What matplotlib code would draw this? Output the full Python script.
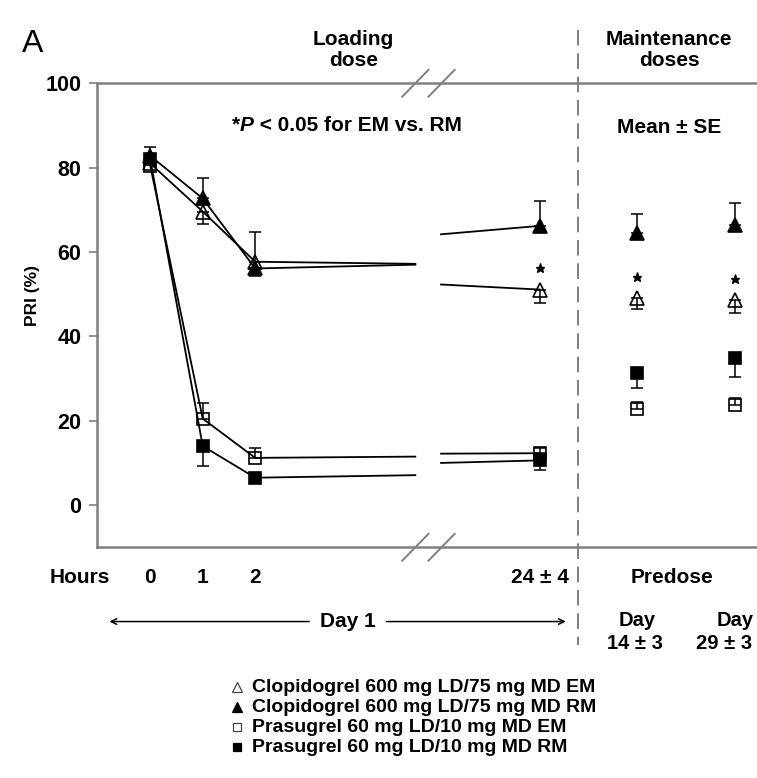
import matplotlib
matplotlib.use("Agg")
import matplotlib.pyplot as plt
from matplotlib.lines import Line2D
from matplotlib.transforms import blended_transform_factory

plt.rcParams['font.family'] = ['Liberation Sans', 'DejaVu Sans']

# ---------------- data ----------------
# loading-dose time points: 0, 1, 2 h and 24±4 h ; maintenance: day 14, day 29
series_names = ["Clopidogrel 600 mg LD/75 mg MD EM",
                "Clopidogrel 600 mg LD/75 mg MD RM",
                "Prasugrel 60 mg LD/10 mg MD EM",
                "Prasugrel 60 mg LD/10 mg MD RM"]

clop_em_ld = [81.0, 69.6, 57.7, 51.1]
clop_rm_ld = [82.8, 72.7, 56.1, 66.2]
pras_em_ld = [80.5, 20.5, 11.2, 12.3]
pras_rm_ld = [82.0, 14.0, 6.5, 10.6]

# values where the line is interrupted by the axis break (left end, right start)
clop_em_brk = [57.2, 52.3]
clop_rm_brk = [57.0, 64.2]
pras_em_brk = [11.5, 12.2]
pras_rm_brk = [7.1, 10.0]

clop_em_md = [49.0, 48.6]
clop_rm_md = [64.4, 66.4]
pras_em_md = [22.9, 23.7]
pras_rm_md = [31.4, 34.8]

# standard errors (one-sided bars: +1 up, -1 down, 0 none)
clop_em_se = [0.0, 3.0, 7.0, 3.3, 2.6, 3.1]
clop_rm_se = [2.2, 4.8, 1.8, 6.0, 4.6, 5.2]
pras_em_se = [0.0, 3.6, 2.4, 1.2, 1.5, 1.7]
pras_rm_se = [0.0, 4.75, 0.0, 2.3, 3.6, 4.4]
clop_em_dir = [0, -1, 1, -1, -1, -1]
clop_rm_dir = [1, 1, -1, 1, 1, 1]
pras_em_dir = [0, 1, 1, 1, 1, 1]
pras_rm_dir = [0, -1, 0, -1, -1, -1]

time_labels = ["0", "1", "2", "24 \u00b1 4"]
day_labels = ["14 \u00b1 3", "29 \u00b1 3"]
yticks = [0, 20, 40, 60, 80, 100]

# ---------------- layout ----------------
x_ld = [0, 1, 2, 7.42]
x_md = [9.27, 11.14]
x_brk = [5.05, 5.54]
x_dash = 8.15

W, H = 757, 778
fig = plt.figure(figsize=(W / 100, H / 100), dpi=100)
ax = fig.add_axes([96.7 / W, 1 - 547.3 / H, (W - 96.7) / W, (547.3 - 83.3) / H])
ax.set_xlim(-1.02, 11.56)
ax.set_ylim(-10, 100)

gray = "#7f7f7f"
for s in ["left", "top", "bottom"]:
    ax.spines[s].set_color(gray)
    ax.spines[s].set_linewidth(1.8)
ax.spines["right"].set_visible(False)
ax.set_xticks([])
ax.set_yticks(yticks)
ax.set_yticklabels([str(v) for v in yticks], fontsize=15.5, fontweight="bold")
ax.tick_params(axis="y", length=6, width=1.2, color=gray, pad=5)
fig.text(33 / W, 1 - 296 / H, "PRI (%)", rotation=90, ha="center", va="center",
         fontsize=12.5, fontweight="bold")

styles = [
    dict(marker="^", mfc="none", mec="black", ms=9.5),
    dict(marker="^", mfc="black", mec="black", ms=9.5),
    dict(marker="s", mfc="none", mec="black", ms=8),
    dict(marker="s", mfc="black", mec="black", ms=8),
]
lds = [clop_em_ld, clop_rm_ld, pras_em_ld, pras_rm_ld]
brks = [clop_em_brk, clop_rm_brk, pras_em_brk, pras_rm_brk]
mds = [clop_em_md, clop_rm_md, pras_em_md, pras_rm_md]
ses = [clop_em_se, clop_rm_se, pras_em_se, pras_rm_se]
dirs = [clop_em_dir, clop_rm_dir, pras_em_dir, pras_rm_dir]

for ld, brk, md, se, dr, st in zip(lds, brks, mds, ses, dirs, styles):
    # lines (interrupted at break)
    ax.plot(x_ld[:3] + [x_brk[0]], ld[:3] + [brk[0]], color="black", lw=1.3, zorder=2)
    ax.plot([x_brk[1], x_ld[3]], [brk[1], ld[3]], color="black", lw=1.3, zorder=2)
    xs = x_ld + x_md
    ys = ld + md
    # one-sided error bars
    for xv, yv, e, d in zip(xs, ys, se, dr):
        if d == 0 or e == 0:
            continue
        lo = [e] if d < 0 else [0]
        hi = [e] if d > 0 else [0]
        ax.errorbar([xv], [yv], yerr=[lo, hi], fmt="none", ecolor="black",
                    elinewidth=1.1, capsize=4.5, capthick=1.1, zorder=3)
    ax.plot(xs, ys, linestyle="none", zorder=4, markeredgewidth=1.2, **st)

# significance stars above Clopidogrel EM at 24h, day14, day29
star_x = [x_ld[3]] + x_md
star_y = [clop_em_ld[3], clop_em_md[0], clop_em_md[1]]
ax.plot(star_x, [v + 5.0 for v in star_y], linestyle="none", marker="*",
        color="black", ms=6.5, zorder=4)

# dashed vertical separator
bt = blended_transform_factory(ax.transData, ax.transAxes)
ax.add_line(Line2D([x_dash, x_dash], [1.115, -0.21], transform=bt, color=gray,
                   lw=1.4, linestyle=(0, (8, 4)), clip_on=False))

# axis-break slashes (top and bottom)
for yc in [1.0, 0.0]:
    for xa in [4.8, 5.3]:
        ax.add_line(Line2D([xa, xa + 0.5], [yc - 0.029, yc + 0.029], transform=bt,
                           color=gray, lw=1.4, clip_on=False))

# texts
fig.text(22 / W, 1 - 44 / H, "A", fontsize=23, va="center", ha="left")
ax.text(3.87, 1.072, "Loading\ndose", transform=bt, ha="center", va="center",
        fontsize=15, fontweight="bold", linespacing=1.12)
ax.text(9.89, 1.072, "Maintenance\ndoses", transform=bt, ha="center", va="center",
        fontsize=15, fontweight="bold", linespacing=1.12)
t1 = ax.text(1.55, 0.91, "*", transform=bt, ha="left", va="center",
             fontsize=15, fontweight="bold")
t2 = ax.annotate("P", xy=(1, 0), xycoords=t1, ha="left", va="bottom",
                 fontsize=15, fontweight="bold", fontstyle="italic")
ax.annotate(" < 0.05 for EM vs. RM", xy=(1, 0), xycoords=t2, ha="left", va="bottom",
            fontsize=15, fontweight="bold")
ax.text(9.89, 0.905, "Mean \u00b1 SE", transform=bt, ha="center", va="center",
        fontsize=15, fontweight="bold")

yb = -0.066
ax.text(-1.35, yb, "Hours", transform=bt, ha="center", va="center",
        fontsize=15, fontweight="bold")
for xv, lab in zip(x_ld, time_labels):
    ax.text(xv, yb, lab, transform=bt, ha="center", va="center",
            fontsize=15, fontweight="bold")
ax.text(9.95, yb, "Predose", transform=bt, ha="center",
        va="center", fontsize=15, fontweight="bold")
for xv, dx, lab in zip(x_md, [-0.03, -0.2], day_labels):
    ax.text(xv, -0.158, "Day", transform=bt, ha="center", va="center",
            fontsize=14.5, fontweight="bold")
    ax.text(xv + dx, -0.207, lab, transform=bt, ha="center", va="center",
            fontsize=14.5, fontweight="bold")

# Day 1 arrow
ya = -0.16
ax.annotate("", xy=(-0.83, ya), xytext=(3.08, ya), xycoords=bt, textcoords=bt,
            arrowprops=dict(arrowstyle="->", color="black", lw=1.1))
ax.annotate("", xy=(7.97, ya), xytext=(4.45, ya), xycoords=bt, textcoords=bt,
            arrowprops=dict(arrowstyle="->", color="black", lw=1.1))
ax.text(3.77, ya, "Day 1", transform=bt, ha="center", va="center",
        fontsize=15, fontweight="bold")

# legend
leg_y = [687, 707, 727, 747]
leg_ms = [7, 7, 6, 6]
for yy, st, name, lms in zip(leg_y, styles, series_names, leg_ms):
    fig.add_artist(Line2D([237 / W], [1 - yy / H], transform=fig.transFigure,
                          linestyle="none", marker=st["marker"], mfc=st["mfc"],
                          mec="#444444" if st["mfc"] == "none" else "black",
                          ms=lms, mew=0.9))
    fig.text(252 / W, 1 - yy / H, name, ha="left", va="center",
             fontsize=14, fontweight="bold")

fig.savefig("out.png", dpi=100)
